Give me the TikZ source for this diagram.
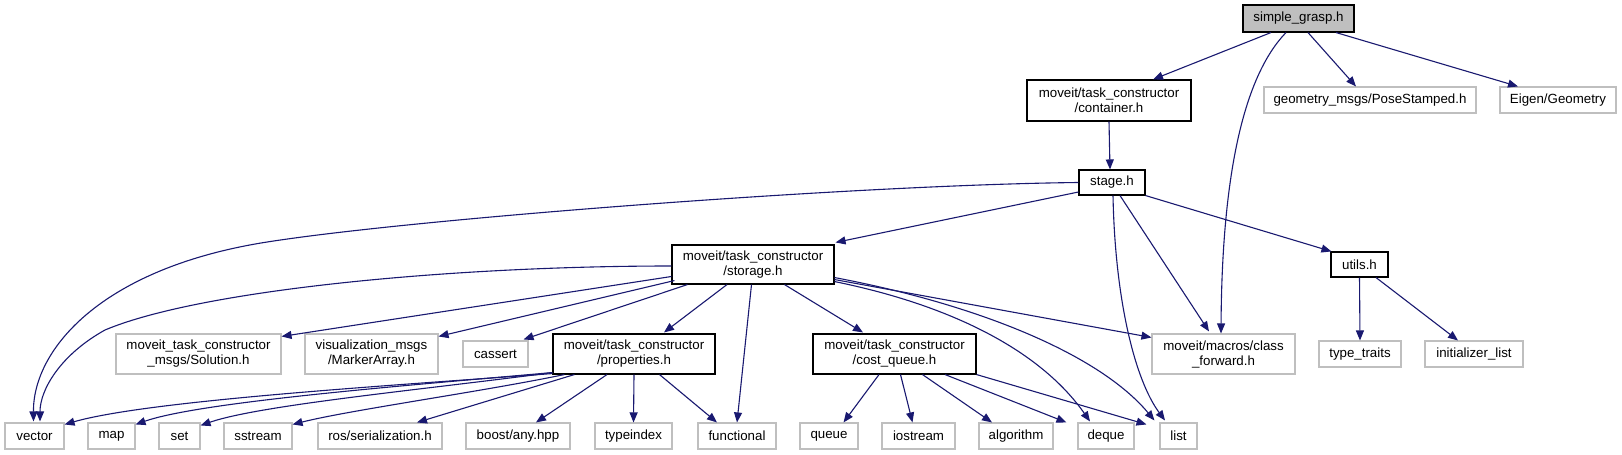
\documentclass[tikz,border=0pt]{standalone}
\usepackage{fontspec}
\setmainfont{Liberation Sans}
\usetikzlibrary{arrows.meta}
\definecolor{edgeblue}{HTML}{191970}
\definecolor{graybd}{HTML}{BFBFBF}
\tikzset{
  box/.style={rectangle, inner sep=0pt, align=center, line width=1.1pt,
    font=\fontsize{13.3}{15}\selectfont},
  blk/.style={box, draw=black},
  gry/.style={box, draw=graybd},
  edge/.style={draw=edgeblue, line width=1.1pt,
    -{Triangle[length=10pt,width=8pt,fill=edgeblue]}},
}
\begin{document}
\begin{tikzpicture}[x=1pt,y=-1pt]
\useasboundingbox[fill=white] (0,0) rectangle (1622,455);
% nodes
\node[blk, fill=graybd, minimum width=111pt, minimum height=27pt] (root) at (1298.5,18.5) {simple\_grasp.h};
\node[blk, minimum width=164pt, minimum height=41pt] (cont) at (1109,100.5) {moveit/task\_constructor\\/container.h};
\node[gry, minimum width=212pt, minimum height=26pt] (pose) at (1370,100) {geometry\_msgs/PoseStamped.h};
\node[gry, minimum width=116pt, minimum height=26pt] (eigen) at (1558,100) {Eigen/Geometry};
\node[blk, minimum width=66pt, minimum height=25pt] (stage) at (1112,182.5) {stage.h};
\node[blk, minimum width=162pt, minimum height=39pt] (stor) at (753,264.5) {moveit/task\_constructor\\/storage.h};
\node[blk, minimum width=57pt, minimum height=25pt] (utils) at (1359.5,264.5) {utils.h};
\node[gry, minimum width=165pt, minimum height=40pt] (sol) at (198.5,354) {moveit\_task\_constructor\\\_msgs/Solution.h};
\node[gry, minimum width=133pt, minimum height=40pt] (mark) at (371.5,354) {visualization\_msgs\\/MarkerArray.h};
\node[gry, minimum width=65pt, minimum height=26pt] (cass) at (495.5,354) {cassert};
\node[blk, minimum width=162pt, minimum height=40pt] (prop) at (634,354) {moveit/task\_constructor\\/properties.h};
\node[blk, minimum width=163pt, minimum height=40pt] (costq) at (894.5,354) {moveit/task\_constructor\\/cost\_queue.h};
\node[gry, minimum width=143pt, minimum height=40pt] (cfwd) at (1223.5,354) {moveit/macros/class\\\_forward.h};
\node[gry, minimum width=82pt, minimum height=26pt] (tt) at (1360,354) {type\_traits};
\node[gry, minimum width=98pt, minimum height=26pt] (init) at (1474,354) {initializer\_list};
\node[gry, minimum width=59pt, minimum height=26pt] (vector) at (34.5,436) {vector};
\node[gry, minimum width=47pt, minimum height=26pt] (map) at (111.5,436) {map};
\node[gry, minimum width=41pt, minimum height=26pt] (set) at (179.5,436) {set};
\node[gry, minimum width=68pt, minimum height=26pt] (sstr) at (258,436) {sstream};
\node[gry, minimum width=124pt, minimum height=26pt] (ross) at (380,436) {ros/serialization.h};
\node[gry, minimum width=104pt, minimum height=26pt] (boost) at (518,436) {boost/any.hpp};
\node[gry, minimum width=77pt, minimum height=26pt] (tidx) at (633.5,436) {typeindex};
\node[gry, minimum width=78pt, minimum height=26pt] (func) at (737,436) {functional};
\node[gry, minimum width=58pt, minimum height=26pt] (queue) at (829,436) {queue};
\node[gry, minimum width=73pt, minimum height=26pt] (iost) at (918.5,436) {iostream};
\node[gry, minimum width=74pt, minimum height=26pt] (algo) at (1016,436) {algorithm};
\node[gry, minimum width=56pt, minimum height=26pt] (deque) at (1106,436) {deque};
\node[gry, minimum width=37pt, minimum height=26pt] (list) at (1178.5,436) {list};
% edges from simple_grasp.h
\draw[edge] ([xshift=-27.5]root.south) -- ([xshift=44]cont.north);
\draw[edge] ([xshift=-12.5]root.south) .. controls (1245,75) and (1222,170) .. ([xshift=-2.5]cfwd.north);
\draw[edge] ([xshift=9.5]root.south) -- ([xshift=-14]pose.north);
\draw[edge] ([xshift=37.5]root.south) -- ([xshift=-40]eigen.north);
% container
\draw[edge] (cont.south) -- ([xshift=-2]stage.north);
% stage
\draw[edge] (stage.west) .. controls (850,185) and (400,220) .. (261,243) .. controls (100,270) and (33,350) .. ([xshift=-1,yshift=1]vector.north);
\draw[edge] ([yshift=-9.5]stage.west) -- ([xshift=1,yshift=2]stor.north east);
\draw[edge] ([xshift=1]stage.south) .. controls (1115,300) and (1135,380) .. ([xshift=-13.5,yshift=2]list.north);
\draw[edge] ([xshift=8]stage.south) -- ([xshift=-14.5,yshift=2]cfwd.north);
\draw[edge] (stage.south east) -- ([xshift=1]utils.north west);
% storage
\draw[edge] ([yshift=-1.5]stor.west) .. controls (450,266) and (200,290) .. (105,330) .. controls (60,355) and (40,390) .. ([xshift=5.5,yshift=1]vector.north);
\draw[edge] ([yshift=-12]stor.west) -- ([yshift=-3]sol.north east);
\draw[edge] ([xshift=3,yshift=4]stor.south west) -- ([yshift=-3]mark.north east);
\draw[edge] ([xshift=16]stor.south west) -- ([xshift=-5,yshift=1]cass.north east);
\draw[edge] ([xshift=-26]stor.south) -- ([xshift=30,yshift=1]prop.north);
\draw[edge] ([xshift=-1.5]stor.south) -- (func.north);
\draw[edge] ([xshift=31.5]stor.south) -- ([xshift=-31.5,yshift=1]costq.north);
\draw[edge] ([yshift=3]stor.south east) .. controls (950,305) and (1040,350) .. ([xshift=-16,yshift=1]deque.north);
\draw[edge] ([yshift=7]stor.south east) .. controls (980,305) and (1100,355) .. ([xshift=-5,yshift=2]list.north west);
\draw[edge] ([yshift=5]stor.south east) -- ([yshift=-4]cfwd.north west);
% properties
\draw[edge] ([yshift=1]prop.south west) .. controls (400,385) and (150,400) .. ([yshift=-2]vector.north east);
\draw[edge] ([yshift=2]prop.south west) .. controls (400,386) and (200,402) .. ([yshift=-2]map.north east);
\draw[edge] ([yshift=2]prop.south west) .. controls (420,390) and (260,405) .. ([yshift=-3]set.north east);
\draw[edge] ([xshift=12]prop.south west) .. controls (480,392) and (350,410) .. ([yshift=-2]sstr.north east);
\draw[edge] ([xshift=22]prop.south west) -- ([xshift=37]ross.north);
\draw[edge] ([xshift=-27]prop.south) -- ([xshift=18]boost.north);
\draw[edge] (prop.south) -- (tidx.north);
\draw[edge] ([xshift=25.5]prop.south) -- ([xshift=-20]func.north);
% cost_queue
\draw[edge] ([xshift=-15.5]costq.south) -- ([xshift=14.5]queue.north);
\draw[edge] ([xshift=6]costq.south) -- ([xshift=-6]iost.north);
\draw[edge] ([xshift=28]costq.south) -- ([xshift=-24]algo.north);
\draw[edge] ([xshift=50.5]costq.south) -- ([xshift=-11]deque.north west);
\draw[edge] (costq.south east) -- ([xshift=-13,yshift=-2]list.north west);
% utils
\draw[edge] (utils.south) -- (tt.north);
\draw[edge] ([xshift=16.5]utils.south) -- ([xshift=-16]init.north);
\end{tikzpicture}
\end{document}
